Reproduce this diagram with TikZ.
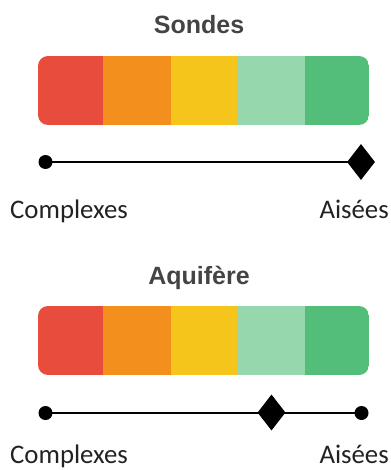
\documentclass[tikz,border=0pt]{standalone}
\usepackage{fontspec}
\setmainfont{Carlito}
\newfontfamily\titlefont{Liberation Sans}
\usetikzlibrary{shapes.geometric}
\definecolor{cRed}{HTML}{E74C3C}
\definecolor{cOrange}{HTML}{F28F1D}
\definecolor{cYellow}{HTML}{F5C51C}
\definecolor{cLight}{HTML}{96D7AE}
\definecolor{cGreen}{HTML}{52BE7A}
\definecolor{cTitle}{HTML}{444444}
\definecolor{cText}{HTML}{222222}
\tikzset{
  x=1pt, y=1pt,
  titletext/.style={anchor=base, text=cTitle, font=\titlefont\bfseries\fontsize{25}{30}\selectfont, inner sep=0},
  labeltext/.style={text=cText, font=\fontsize{26.8}{30}\selectfont, inner sep=0},
  dotnode/.style={circle, fill=black, minimum size=14pt, inner sep=0},
  diamnode/.style={diamond, fill=black, minimum width=28pt, minimum height=36pt, inner sep=0, shape aspect=0.78},
  scaleline/.style={line width=2.8pt, black},
}
\newcommand{\colorbar}[2]{%
  \begin{scope}
    \clip[rounded corners=10pt] (38,#1) rectangle (369,#2);
    \fill[cRed]    (38,#1)  rectangle (103.5,#2);
    \fill[cOrange] (103,#1) rectangle (171.5,#2);
    \fill[cYellow] (171,#1) rectangle (237.5,#2);
    \fill[cLight]  (237,#1) rectangle (305.5,#2);
    \fill[cGreen]  (305,#1) rectangle (369,#2);
  \end{scope}}
\begin{document}
\begin{tikzpicture}
\useasboundingbox (0,0) rectangle (390,-470);
% --- Sondes ---
\node[titletext] (t1) at (199,-34) {Sondes};
\colorbar{-56}{-125}
\node[dotnode] (a1) at (45.5,-162) {};
\node[diamnode] (b1) at (361,-162) {};
\draw[scaleline] (a1.center) -- (b1.center);
\node[labeltext, anchor=base west] (l1) at (10,-218) {Complexes};
\node[labeltext, anchor=base east] (r1) at (389,-218) {Aisées};
% --- Aquifere ---
\node[titletext] (t2) at (199,-284) {Aquifère};
\colorbar{-306}{-375}
\node[dotnode] (a2) at (45.5,-413) {};
\node[dotnode] (c2) at (361.5,-413) {};
\draw[scaleline] (a2.center) -- (c2.center);
\node[diamnode] (b2) at (271.5,-412.5) {};
\node[labeltext, anchor=base west] (l2) at (10,-463) {Complexes};
\node[labeltext, anchor=base east] (r2) at (389,-463) {Aisées};
\end{tikzpicture}
\end{document}
